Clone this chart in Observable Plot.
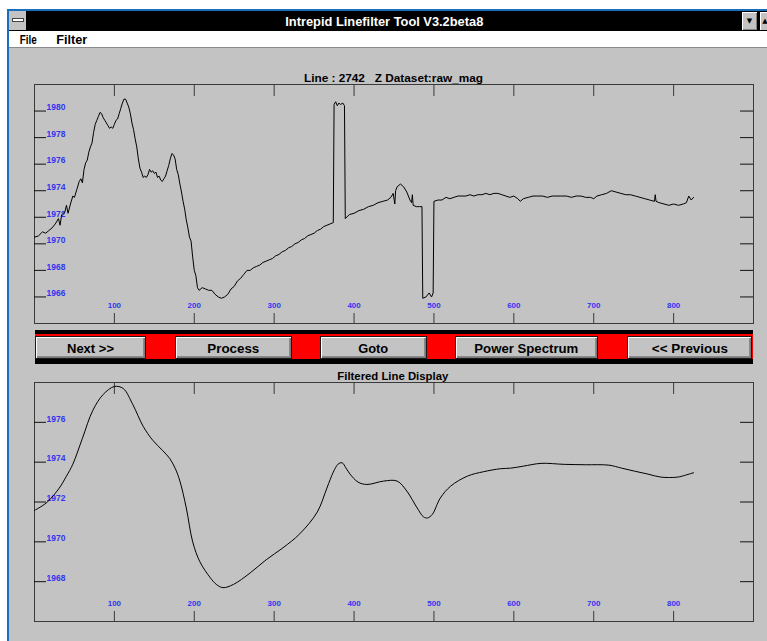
<!DOCTYPE html>
<html><head><meta charset="utf-8">
<script src="https://cdn.jsdelivr.net/npm/d3@7"></script>
<script src="https://cdn.jsdelivr.net/npm/@observablehq/plot@0.6"></script>
<style>
html,body{margin:0;padding:0;}
body{width:767px;height:641px;overflow:hidden;background:#fff;position:relative;font-family:"Liberation Sans",Arial,sans-serif;}
.abs{position:absolute;box-sizing:border-box;}
.lbl{position:absolute;display:flex;justify-content:center;align-items:center;white-space:pre;}
.lbl span{display:inline-block;white-space:pre;transform-origin:center center;}
.btn{position:absolute;box-sizing:border-box;background:#c3c3c3;border:1px solid #1a1a1a;
 box-shadow:inset 1px 1px 0 #fff, inset -1px -1px 0 #7a7a7a, inset -2px -2px 0 #8a8a8a;}
</style>
</head><body>
<script>
// ---------- data ----------
const titleText = "Intrepid Linefilter Tool V3.2beta8";
const menuItems = ["File", "Filter"];
const rawTitle = "Line : 2742   Z Dataset:raw_mag";
const filtTitle = "Filtered Line Display";
const buttonLabels = ["Next >>", "Process", "Goto", "Power Spectrum", "<< Previous"];

const xTicks = [100, 200, 300, 400, 500, 600, 700, 800];
const rawYTicks = [1966, 1968, 1970, 1972, 1974, 1976, 1978, 1980];
const filtYTicks = [1968, 1970, 1972, 1974, 1976];

const rawPos = [0,5,10,14,18,22,26,30,32,34,38,40,42,45,48,50,53,56,58,60,62,64,66,68,70,72,74,76,78,80,82,84,86,88,90,92,94,96,98,100,102,104,106,108,110,112,114,116,118,120,122,124,126,128,130,132,134,136,138,140,142,144,146,148,150,152,154,156,158,160,162,164,166,168,170,172,174,176,178,180,182,184,186,188,190,192,194,196,198,200,202,204,206,210,214,218,222,226,230,234,238,242,246,250,254,258,262,266,270,274,278,282,286,290,294,298,302,306,310,314,318,322,326,330,334,338,342,346,350,354,358,362,366,370,374,375,377,379,381,383,386,388,389,394,400,406,412,418,424,430,436,442,446,449,451,452,454,458,462,466,470,472,473,474,478,482,485,486,490,494,497,499,500,505,510,515,520,525,530,535,540,545,550,555,560,565,570,575,580,585,590,595,600,605,608,612,618,624,630,636,642,648,654,660,666,672,678,684,690,696,700,704,710,716,722,728,734,740,746,752,758,764,770,776,777,778,782,788,794,800,806,812,816,819,822,825];
const rawMag = [1970.5,1970.6,1970.9,1970.8,1971.0,1971.2,1971.5,1971.9,1971.4,1972.2,1972.4,1972.9,1972.3,1973.0,1973.6,1973.5,1974.1,1974.7,1974.9,1974.6,1975.6,1976.1,1976.3,1976.9,1977.3,1977.6,1978.4,1979.0,1979.3,1979.6,1979.9,1979.8,1979.5,1979.3,1979.1,1978.9,1978.7,1978.8,1978.7,1979.0,1979.3,1979.4,1979.8,1980.2,1980.6,1980.9,1980.9,1980.6,1980.3,1979.8,1979.1,1978.6,1977.9,1977.3,1976.4,1975.7,1975.4,1975.0,1975.1,1975.0,1975.2,1975.6,1975.4,1975.5,1975.3,1975.4,1975.0,1975.1,1974.8,1974.7,1974.9,1975.1,1975.5,1975.9,1976.4,1976.8,1976.7,1976.4,1975.6,1975.2,1974.5,1973.9,1973.2,1972.6,1971.8,1971.2,1970.5,1970.2,1969.0,1968.0,1967.6,1966.7,1966.5,1966.7,1966.6,1966.5,1966.5,1966.2,1966.0,1965.9,1966.0,1966.2,1966.6,1966.8,1967.2,1967.4,1967.7,1968.0,1968.0,1968.2,1968.3,1968.4,1968.6,1968.7,1968.8,1968.9,1969.1,1969.2,1969.4,1969.5,1969.7,1969.8,1970.0,1970.1,1970.3,1970.4,1970.6,1970.7,1970.8,1971.0,1971.1,1971.3,1971.4,1971.5,1971.6,1980.5,1980.7,1980.4,1980.6,1980.5,1980.6,1980.4,1971.9,1972.2,1972.3,1972.5,1972.6,1972.8,1972.9,1973.1,1973.2,1973.3,1973.5,1973.8,1973.0,1974.0,1974.3,1974.5,1974.3,1973.9,1973.3,1973.1,1973.7,1972.9,1972.8,1972.8,1972.8,1965.9,1966.0,1966.3,1966.0,1966.3,1973.2,1973.3,1973.3,1973.5,1973.4,1973.5,1973.6,1973.6,1973.6,1973.7,1973.6,1973.7,1973.7,1973.8,1973.7,1973.8,1973.8,1973.7,1973.6,1973.5,1973.6,1973.4,1973.2,1973.4,1973.5,1973.6,1973.6,1973.6,1973.5,1973.6,1973.6,1973.6,1973.6,1973.5,1973.6,1973.6,1973.5,1973.5,1973.4,1973.6,1973.7,1973.8,1974.0,1973.9,1973.8,1973.7,1973.7,1973.6,1973.5,1973.4,1973.3,1973.2,1973.7,1973.2,1973.1,1973.0,1972.9,1973.0,1972.9,1973.0,1973.1,1973.6,1973.3,1973.5];

const filtPos = [0,15,31,40,48,60,73,86,100,111,123,136,148,160,169,176,182,190,198,207,220,228,236,249,270,290,311,332,354,366,374,380,385,390,395,405,416,437,454,466,479,487,492,498,508,521,542,562,583,596,612,634,663,690,719,735,751,768,784,805,815,825];
const filtMag = [1971.58,1971.96,1972.7,1973.3,1973.9,1975.2,1976.6,1977.4,1977.8,1977.7,1976.9,1975.8,1975.1,1974.6,1974.2,1973.7,1973.05,1971.7,1970.0,1969.0,1968.2,1967.85,1967.7,1967.86,1968.44,1969.1,1969.7,1970.4,1971.5,1972.7,1973.5,1973.9,1973.97,1973.7,1973.4,1973.0,1972.88,1973.05,1973.05,1972.55,1971.7,1971.25,1971.2,1971.38,1972.2,1972.8,1973.3,1973.52,1973.67,1973.7,1973.8,1973.94,1973.89,1973.87,1973.85,1973.7,1973.55,1973.4,1973.25,1973.25,1973.35,1973.47];

// ---------- layout helpers ----------
function box(css) { const d = document.createElement("div"); d.className = "abs"; Object.assign(d.style, css); document.body.appendChild(d); return d; }
const fits = [];
function label(text, x0, x1, yc, h, font, color, fitW) {
  const d = document.createElement("div"); d.className = "lbl";
  Object.assign(d.style, {left: x0 + "px", width: (x1 - x0) + "px", top: (yc - h / 2) + "px", height: h + "px", font, color});
  const s = document.createElement("span"); s.textContent = text; d.appendChild(s);
  document.body.appendChild(d);
  if (fitW) fits.push([s, fitW]);
  return d;
}

// window frame
box({left: "7px", top: "9px", width: "770px", height: "640px", background: "#c3c3c3", borderLeft: "2px solid #1c6cc0", borderTop: "2px solid #1c6cc0"});
box({left: "9px", top: "11px", width: "760px", height: "20px", background: "#000"});
// system menu box
box({left: "9px", top: "11px", width: "18px", height: "20px", background: "#c3c3c3", borderRight: "1px solid #000", borderBottom: "1px solid #000"});
box({left: "12px", top: "18px", width: "12px", height: "4px", background: "#fff", border: "1px solid #444"});
// min / max buttons
box({left: "741px", top: "11px", width: "17px", height: "20px", background: "#c3c3c3", border: "1px solid #000", boxShadow: "inset 1px 1px 0 #fff, inset -1px -1px 0 #808080"});
label("\u25BC", 741, 758, 21, 20, "7px 'DejaVu Sans'", "#000");
box({left: "759px", top: "11px", width: "12px", height: "20px", background: "#c3c3c3", border: "1px solid #000", boxShadow: "inset 1px 1px 0 #fff"});
label("\u25B2", 759, 771, 21, 20, "7px 'DejaVu Sans'", "#000");
label(titleText, 200, 568, 21, 20, "bold 13px 'Liberation Sans'", "#fff", 198);
// menu bar
box({left: "9px", top: "31px", width: "760px", height: "17px", background: "#fff", borderBottom: "1px solid #8a8a8a"});
label(menuItems[0], 10, 46, 40, 16, "bold 12px 'Liberation Sans'", "#000", 17);
label(menuItems[1], 50, 94, 40, 16, "bold 12px 'Liberation Sans'", "#000", 31);

// chart titles
label(rawTitle, 253, 533, 78, 14, "bold 11px 'Liberation Sans'", "#000", 179);
label(filtTitle, 293, 493, 376, 14, "bold 11px 'Liberation Sans'", "#000", 111);

// button bar
box({left: "35px", top: "330px", width: "718px", height: "34px", background: "#ff0000", borderTop: "4px solid #000", borderBottom: "5px solid #000"});
const btnBoxes = [[35, 146], [175, 292], [320, 427], [455, 598], [627, 752]];
const btnTextW = [47, 52, 30, 104, 76];
buttonLabels.forEach((t, i) => {
  const [a, b] = btnBoxes[i];
  box({left: a + "px", top: "336px", width: (b - a) + "px", height: "23px"}).className = "btn";
  label(t, a, b, 348, 20, "bold 13px 'Liberation Sans'", "#000", btnTextW[i]);
});

// ---------- charts ----------
const BLUE = "#3434f2";
function chart(pos, mag, yDomain, yTicks, curve) {
  const W = 721, H = 241, iw = W - 2, ih = H - 2;
  const pts = pos.map((x, i) => ({x, y: mag[i]}));
  return Plot.plot({
    width: W, height: H, margin: 1,
    x: {domain: [0, 900], axis: null},
    y: {domain: yDomain, axis: null},
    style: {background: "transparent", overflow: "visible", fontFamily: "'Liberation Sans', Arial, sans-serif"},
    marks: [
      Plot.frame({stroke: "#3a3a3a"}),
      Plot.tickY(yTicks, {y: d => d, insetRight: iw - 12, stroke: "#111"}),
      Plot.tickY(yTicks, {y: d => d, insetLeft: iw - 13, stroke: "#111"}),
      Plot.tickX(xTicks, {x: d => d, insetBottom: ih - 12, stroke: "#3a3a3a"}),
      Plot.tickX(xTicks, {x: d => d, insetTop: ih - 10, stroke: "#3a3a3a"}),
      Plot.text(yTicks, {y: d => d, text: d => String(d), frameAnchor: "left", dx: 12, dy: -3.5, textAnchor: "start", fill: BLUE, fontSize: 8.5, fontWeight: "bold"}),
      Plot.text(xTicks, {x: d => d, text: d => String(d), frameAnchor: "bottom", dy: -15.5, fill: BLUE, fontSize: 8, fontWeight: "bold"}),
      Plot.line(pts, {x: "x", y: "y", stroke: "#000", strokeWidth: 1, curve})
    ]
  });
}
const top1 = chart(rawPos, rawMag, [1964, 1982], rawYTicks, "linear");
Object.assign(top1.style, {position: "absolute", left: "33px", top: "83px"});
document.body.appendChild(top1);
const bot1 = chart(filtPos, filtMag, [1966, 1978], filtYTicks, "catmull-rom");
Object.assign(bot1.style, {position: "absolute", left: "33px", top: "381px"});
document.body.appendChild(bot1);

// fit bitmap-like text widths
fits.forEach(([s, w]) => { const r = s.getBoundingClientRect().width; if (r > 0) s.style.transform = `scaleX(${w / r})`; });
</script>
</body></html>
